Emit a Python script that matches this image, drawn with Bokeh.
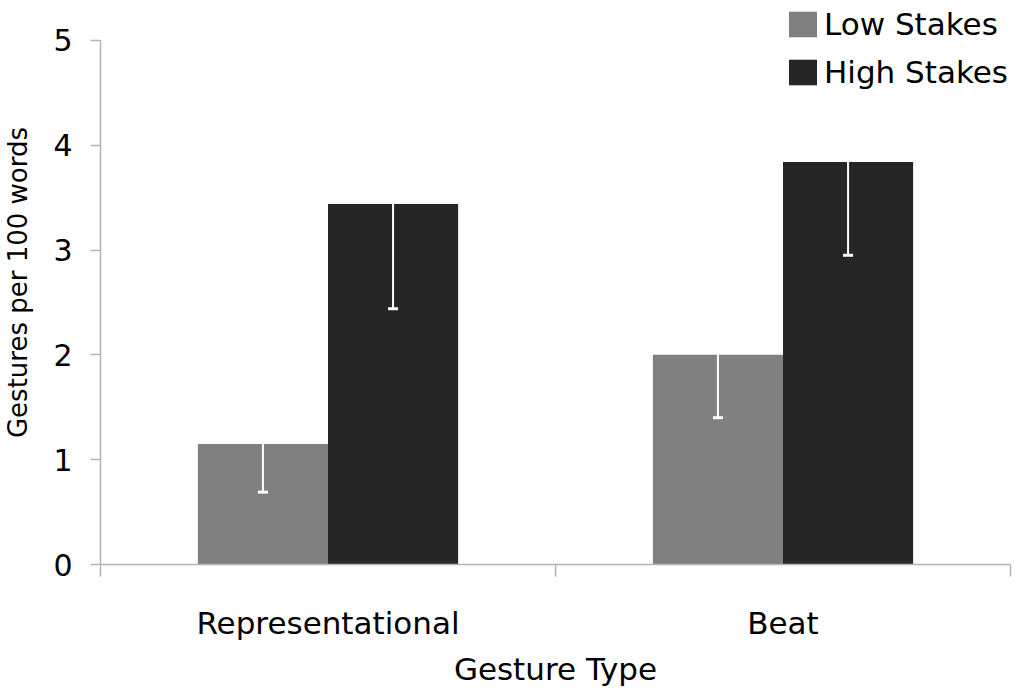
from bokeh.plotting import figure
from bokeh.models import (FactorRange, LinearAxis, FixedTicker, Range1d, Whisker,
                          TeeHead, ColumnDataSource, Legend, LegendItem)
from bokeh.transform import dodge
from bokeh.embed import file_html
from bokeh.resources import INLINE

categories = ["Representational", "Beat"]
series = ["Low Stakes", "High Stakes"]
low_values = [1.15, 2.00]
high_values = [3.44, 3.84]
low_errors = [0.46, 0.60]
high_errors = [1.00, 0.89]
y_ticks = [0, 1, 2, 3, 4, 5]

FONT = "DejaVu Sans"
AXIS_GRAY = "#b4b4b4"
LOW_COLOR = "#808080"
HIGH_COLOR = "#262626"

src = ColumnDataSource(dict(
    cat=categories,
    low=low_values,
    high=high_values,
    low_lo=[v - e for v, e in zip(low_values, low_errors)],
    high_lo=[v - e for v, e in zip(high_values, high_errors)],
))

# the frame reaches to the top of the figure so that the legend (above
# the 5-line) is not clipped; the axis line itself is bounded to 0..5
p = figure(x_range=FactorRange(*categories, range_padding=0),
           y_range=Range1d(0, 5.38),
           frame_width=910, frame_height=564,
           min_border_left=100, min_border_right=4,
           min_border_top=0, min_border_bottom=118,
           output_backend="svg", toolbar_location=None,
           x_axis_location=None)
p.outline_line_color = None
p.grid.visible = False
p.background_fill_color = "white"
p.border_fill_color = "white"

bw = 0.286
r_low = p.vbar(x=dodge("cat", -bw / 2, range=p.x_range), top="low", width=bw,
               source=src, fill_color=LOW_COLOR, line_color=None)
r_high = p.vbar(x=dodge("cat", bw / 2, range=p.x_range), top="high", width=bw,
                source=src, fill_color=HIGH_COLOR, line_color=None)

for off, top, lo in [(-bw / 2, "low", "low_lo"), (bw / 2, "high", "high_lo")]:
    w = Whisker(base=dodge("cat", off, range=p.x_range), upper=top, lower=lo,
                source=src, dimension="height", line_color="white", line_width=2,
                upper_head=None, level="overlay",
                lower_head=TeeHead(size=10, line_color="white", line_width=3))
    p.add_layout(w)

# y axis
ya = p.yaxis[0]
ya.bounds = (y_ticks[0], y_ticks[-1])
ya.ticker = FixedTicker(ticks=y_ticks, minor_ticks=[])
ya.axis_line_color = AXIS_GRAY
ya.axis_line_width = 1.5
ya.major_tick_line_color = AXIS_GRAY
ya.major_tick_line_width = 1.5
ya.major_tick_out = 10
ya.major_tick_in = 0
ya.minor_tick_line_color = None
ya.major_label_text_font = FONT
ya.major_label_text_font_size = "30px"
ya.major_label_text_color = "black"
ya.major_label_standoff = 18
ya.axis_label = "Gestures per 100 words"
ya.axis_label_text_font = FONT
ya.axis_label_text_font_size = "26px"
ya.axis_label_text_font_style = "normal"
ya.axis_label_text_color = "black"
ya.axis_label_standoff = 17

# x axis: labels at category centres, ticks at category boundaries
xa = LinearAxis(
    ticker=FixedTicker(ticks=[i + 0.5 for i in range(len(categories))],
                       minor_ticks=list(range(len(categories) + 1))),
    major_label_overrides={i + 0.5: c for i, c in enumerate(categories)},
)
xa.axis_line_color = AXIS_GRAY
xa.axis_line_width = 1.5
xa.major_tick_line_color = None
xa.major_tick_out = 0
xa.major_tick_in = 0
xa.minor_tick_line_color = AXIS_GRAY
xa.minor_tick_line_width = 1.5
xa.minor_tick_out = 12
xa.minor_tick_in = 0
xa.major_label_text_font = FONT
xa.major_label_text_font_size = "31px"
xa.major_label_text_color = "black"
xa.major_label_standoff = 28
xa.axis_label = "Gesture Type"
xa.axis_label_text_font = FONT
xa.axis_label_text_font_size = "31px"
xa.axis_label_text_font_style = "normal"
xa.axis_label_text_color = "black"
xa.axis_label_standoff = 7
p.add_layout(xa, "below")

legend = Legend(items=[LegendItem(label=series[0], renderers=[r_low]),
                       LegendItem(label=series[1], renderers=[r_high])],
                location=(685, 474))
legend.border_line_color = None
legend.background_fill_alpha = 0
legend.padding = 0
legend.margin = 0
legend.spacing = 12
legend.glyph_width = 35
legend.glyph_height = 32
legend.label_standoff = 4
legend.label_text_font = FONT
legend.label_text_font_size = "31px"
legend.label_text_color = "black"
p.add_layout(legend)

open("out.html", "w").write(file_html(p, INLINE))
